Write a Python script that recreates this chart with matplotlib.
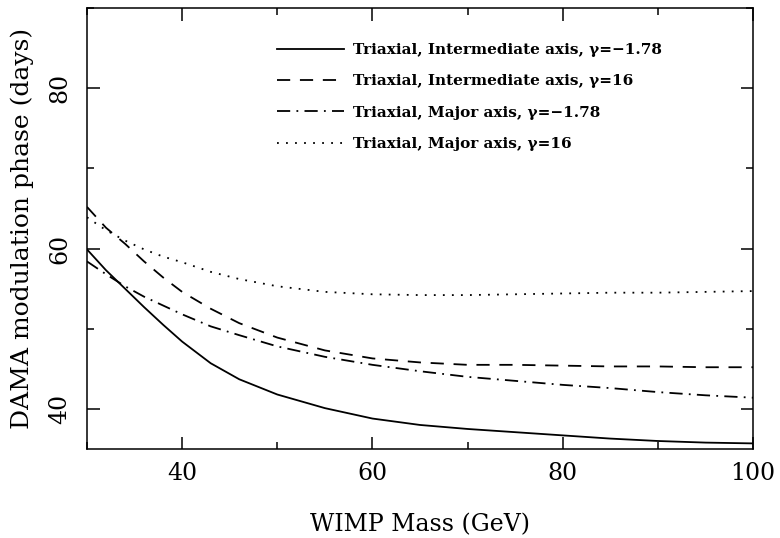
"""
DAMA modulation phase versus WIMP mass for triaxial halo models.
"""

import matplotlib
matplotlib.use('Agg')
import matplotlib.pyplot as plt
from matplotlib.ticker import MultipleLocator

plt.rcParams['font.family'] = ['DejaVu Serif']
plt.rcParams['lines.scale_dashes'] = False

# WIMP mass (GeV)
mass = [30, 32, 34, 36, 38, 40, 43, 46, 50, 55, 60, 65, 70, 75, 80, 85, 90, 95, 100]

# modulation phase (days)
inter_neg = [59.9, 57.3, 55.0, 52.7, 50.5, 48.4, 45.7, 43.7, 41.8, 40.1,
             38.8, 38.0, 37.5, 37.1, 36.7, 36.3, 36.0, 35.8, 35.7]
inter_pos = [65.2, 62.6, 60.6, 58.4, 56.4, 54.6, 52.5, 50.7, 48.9, 47.3,
             46.3, 45.8, 45.5, 45.5, 45.4, 45.3, 45.3, 45.2, 45.2]
major_neg = [58.4, 56.8, 55.3, 54.0, 52.9, 51.8, 50.3, 49.2, 47.8, 46.5,
             45.5, 44.7, 44.0, 43.5, 43.0, 42.6, 42.1, 41.7, 41.4]
major_pos = [63.9, 62.3, 61.0, 59.9, 59.0, 58.3, 57.1, 56.2, 55.3, 54.6,
             54.3, 54.2, 54.2, 54.3, 54.4, 54.5, 54.5, 54.6, 54.7]

labels = ['Triaxial, Intermediate axis, γ=−1.78',
          'Triaxial, Intermediate axis, γ=16',
          'Triaxial, Major axis, γ=−1.78',
          'Triaxial, Major axis, γ=16']

fig = plt.figure(figsize=(7.8, 5.38), dpi=100)
ax = fig.add_axes([0.1115, 0.1654, 0.854, 0.8196])

lw = 1.3
ax.plot(mass, inter_neg, color='black', lw=lw, linestyle='-', label=labels[0])
ax.plot(mass, inter_pos, color='black', lw=lw, linestyle=(0, (9.5, 7)), label=labels[1])
ax.plot(mass, major_neg, color='black', lw=lw, linestyle=(0, (9.5, 4.5, 1.3, 4.5)), label=labels[2])
ax.plot(mass, major_pos, color='black', lw=lw, linestyle=(0, (1.3, 5.2)), label=labels[3])

ax.set_xlim(30, 100)
ax.set_ylim(35, 90)
ax.xaxis.set_major_locator(MultipleLocator(20))
ax.xaxis.set_minor_locator(MultipleLocator(10))
ax.yaxis.set_major_locator(MultipleLocator(20))
ax.yaxis.set_minor_locator(MultipleLocator(10))

ax.tick_params(which='both', direction='in', top=True, right=True, width=1.1)
ax.tick_params(which='major', length=9, labelsize=17)
ax.tick_params(which='minor', length=5)
ax.tick_params(axis='x', pad=9)
ax.tick_params(axis='y', pad=11)
for lab in ax.get_yticklabels():
    lab.set_rotation(90)
    lab.set_va('center')
for sp in ax.spines.values():
    sp.set_linewidth(1.1)

ax.set_xlabel('WIMP Mass (GeV)', fontsize=17)
ax.set_ylabel('DAMA modulation phase (days)', fontsize=18)
ax.xaxis.set_label_coords(0.5, -0.145)
ax.yaxis.set_label_coords(-0.08, 0.5)

ax.legend(loc='upper left', bbox_to_anchor=(0.285, 0.9205), frameon=False,
          borderpad=0, borderaxespad=0, handlelength=4.4, handletextpad=0.6,
          labelspacing=1.135,
          prop={'family': 'DejaVu Serif', 'weight': 'bold', 'size': 11})

fig.savefig('out.png', dpi=100)
